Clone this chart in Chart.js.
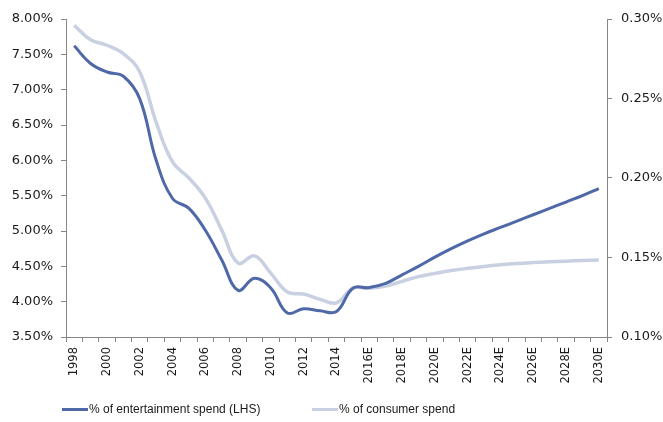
<!DOCTYPE html>
<html>
<head>
<meta charset="utf-8">
<script src="https://cdn.jsdelivr.net/npm/chart.js@4.4.1/dist/chart.umd.min.js"></script>
<style>
  html, body { margin: 0; padding: 0; background: #fff; }
  #wrap { position: relative; width: 663px; height: 422px; }
  .legend { position: absolute; top: 399px; left: 0; width: 663px; height: 20px;
            font-family: 'Liberation Sans', Arial, sans-serif; font-size: 12px; color: #1a1a1a; }
  .item { position: absolute; top: 0; display: flex; align-items: center; height: 20px; }
  .swatch { width: 26px; height: 3px; margin-right: 1px; }
</style>
</head>
<body>
<div id="wrap">
  <canvas id="chart" width="663" height="422"></canvas>
  <div class="legend">
    <div class="item" style="left:62px"><span class="swatch" style="background:#4f69a8"></span>% of entertainment spend (LHS)</div>
    <div class="item" style="left:312px"><span class="swatch" style="background:#c8d0e2"></span>% of consumer spend</div>
  </div>
</div>
<script>
// years on the category axis
const years = [
  '1998', '1999', '2000', '2001', '2002', '2003', '2004', '2005', '2006', '2007', '2008',
  '2009', '2010', '2011', '2012', '2013', '2014', '2015', '2016E', '2017E', '2018E',
  '2019E', '2020E', '2021E', '2022E', '2023E', '2024E', '2025E', '2026E', '2027E',
  '2028E', '2029E', '2030E'
];

// % of entertainment spend (left axis)
const entertainmentShare = [
  7.62, 7.37, 7.25, 7.19, 6.87, 6.00, 5.46, 5.32, 5.01, 4.59, 4.16,
  4.33, 4.19, 3.84, 3.90, 3.87, 3.86, 4.19, 4.20, 4.26, 4.38,
  4.50, 4.63, 4.75, 4.86, 4.96, 5.05, 5.14, 5.23, 5.32,
  5.41, 5.50, 5.60
];

// % of consumer spend (right axis)
const consumerShare = [
  0.2960, 0.2870, 0.2835, 0.2782, 0.2667, 0.2350, 0.2101, 0.2000, 0.1873, 0.1672, 0.1465,
  0.1510, 0.1400, 0.1283, 0.1270, 0.1237, 0.1215, 0.1308, 0.1306, 0.1320, 0.1350,
  0.1380, 0.1400, 0.1418, 0.1432, 0.1444, 0.1454, 0.1462, 0.1468, 0.1473,
  0.1477, 0.1481, 0.1485
];

const leftTicks = { min: 3.5, max: 8, step: 0.5 };
const rightTicks = { min: 0.10, max: 0.30, step: 0.05 };

const axisColor = '#868686';
const textColor = '#1a1a1a';

const ctx = document.getElementById('chart').getContext('2d');

new Chart(ctx, {
  type: 'line',
  data: {
    labels: years,
    datasets: [
      {
        label: '% of entertainment spend (LHS)',
        data: entertainmentShare,
        yAxisID: 'y',
        borderColor: '#4f69a8',
        borderWidth: 3,
        pointRadius: 0,
        tension: 0.4,
        order: 1
      },
      {
        label: '% of consumer spend',
        data: consumerShare,
        yAxisID: 'y1',
        borderColor: '#c8d0e2',
        borderWidth: 3.5,
        pointRadius: 0,
        tension: 0.4,
        order: 2
      }
    ]
  },
  options: {
    responsive: false,
    animation: false,
    layout: { padding: { top: 19, right: 0, bottom: 0, left: 0 } },
    plugins: {
      legend: { display: false },
      tooltip: { enabled: false }
    },
    scales: {
      x: {
        offset: true,
        grid: { drawOnChartArea: false, drawTicks: true, tickLength: 5, color: axisColor, offset: true },
        border: { display: true, color: axisColor, width: 1 },
        ticks: {
          autoSkip: false,
          maxRotation: 90,
          minRotation: 90,
          padding: 5,
          color: textColor,
          font: { family: 'DejaVu Sans', size: 11.5 },
          callback: function(value, index) {
            return index % 2 === 0 ? years[index] : '';
          }
        },
        afterFit: function(scale) { scale.height = 85; }
      },
      y: {
        position: 'left',
        min: leftTicks.min,
        max: leftTicks.max,
        grid: { drawOnChartArea: false, drawTicks: true, tickLength: 5, color: axisColor },
        border: { display: true, color: axisColor, width: 1 },
        ticks: {
          stepSize: leftTicks.step,
          padding: 8,
          color: textColor,
          font: { family: 'DejaVu Sans', size: 13 },
          callback: function(value) { return value.toFixed(2) + '%'; }
        },
        afterFit: function(scale) { scale.width = 66; }
      },
      y1: {
        position: 'right',
        min: rightTicks.min,
        max: rightTicks.max,
        grid: { drawOnChartArea: false, drawTicks: true, tickLength: 5, color: axisColor },
        border: { display: true, color: axisColor, width: 1 },
        ticks: {
          stepSize: rightTicks.step,
          padding: 9,
          color: textColor,
          font: { family: 'DejaVu Sans', size: 13 },
          callback: function(value) { return value.toFixed(2) + '%'; }
        },
        afterFit: function(scale) { scale.width = 56; }
      }
    }
  }
});
</script>
</body>
</html>
